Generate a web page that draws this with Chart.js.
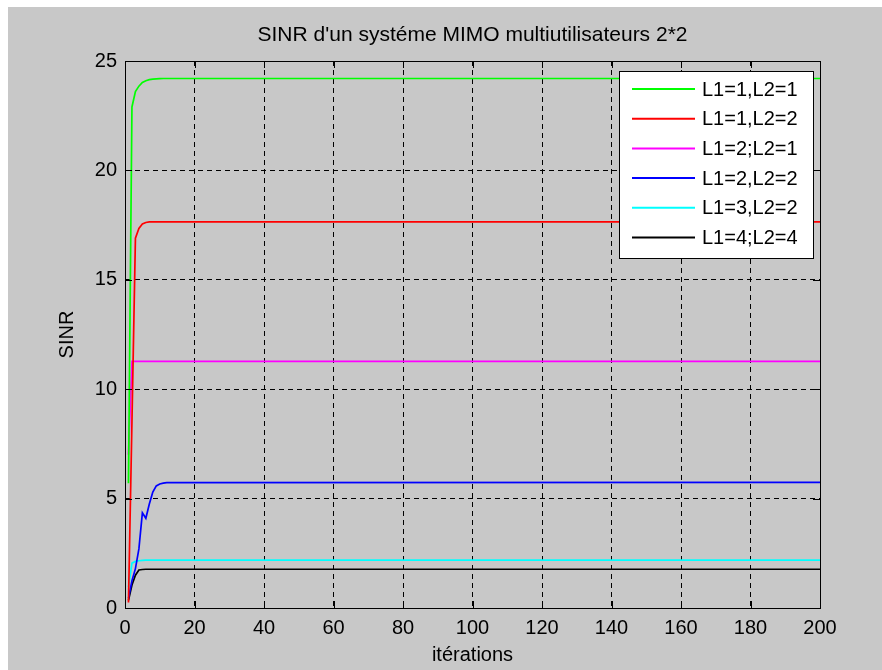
<!DOCTYPE html>
<html>
<head>
<meta charset="utf-8">
<script src="https://cdn.jsdelivr.net/npm/chart.js@4"></script>
<style>
  html, body { margin: 0; padding: 0; background: #fff; }
  #frame { position: absolute; left: 8px; top: 7px; width: 874px; height: 663px; background: #c8c8c8; }
</style>
</head>
<body>
<div id="frame"><canvas id="sinrCanvas" width="874" height="663"></canvas></div>
<script>
const sinrCanvas = document.getElementById("sinrCanvas");
const FONT = '"Liberation Sans", Arial, sans-serif';

// iteration numbers of the points (flat after ~12)
const iterations = [1, 2, 3, 4, 5, 6, 7, 8, 9, 10, 11, 12, 200];

const sinrL11L21 = [5.7, 22.9, 23.6, 23.85, 24.02, 24.1, 24.15, 24.17, 24.18, 24.19, 24.2, 24.2, 24.2];
const sinrL11L22 = [0.25, 8.5, 16.9, 17.35, 17.55, 17.62, 17.65, 17.65, 17.65, 17.65, 17.65, 17.65, 17.65];
const sinrL12L21 = [7.0, 11.27, 11.27, 11.27, 11.27, 11.27, 11.27, 11.27, 11.27, 11.27, 11.27, 11.27, 11.27];
const sinrL12L22 = [0.44, 1.25, 1.8, 2.7, 4.35, 4.1, 4.75, 5.3, 5.58, 5.67, 5.71, 5.73, 5.74];
const sinrL13L22 = [0.95, 2.05, 2.13, 2.16, 2.18, 2.19, 2.19, 2.19, 2.19, 2.19, 2.19, 2.19, 2.19];
const sinrL14L24 = [0.35, 1.05, 1.5, 1.74, 1.76, 1.77, 1.77, 1.77, 1.77, 1.77, 1.77, 1.77, 1.77];

const seriesLabels = ["L1=1,L2=1", "L1=1,L2=2", "L1=2;L2=1", "L1=2,L2=2", "L1=3,L2=2", "L1=4;L2=4"];
const seriesColors = ["#00ff00", "#ff0000", "#ff00ff", "#0000ff", "#00ffff", "#000000"];
const seriesValues = [sinrL11L21, sinrL11L22, sinrL12L21, sinrL12L22, sinrL13L22, sinrL14L24];

const xTicks = [0, 20, 40, 60, 80, 100, 120, 140, 160, 180, 200];
const yTicks = [0, 5, 10, 15, 20, 25];

const toPoints = values => values.map((v, i) => ({x: iterations[i], y: v}));

// box around the axes + small inner ticks like matlab
const axesFrame = {
    id: 'axesFrame',
    afterDatasetsDraw(chart) {
        const {ctx, chartArea: a, scales} = chart;
        ctx.save();
        ctx.strokeStyle = "#000";
        ctx.lineWidth = 1;
        ctx.setLineDash([]);
        ctx.strokeRect(Math.round(a.left) + 0.5, Math.round(a.top) + 0.5,
            Math.round(a.right - a.left), Math.round(a.bottom - a.top));
        ctx.beginPath();
        xTicks.forEach(v => {
            const px = Math.round(scales.x.getPixelForValue(v)) + 0.5;
            ctx.moveTo(px, a.bottom); ctx.lineTo(px, a.bottom - 7);
            ctx.moveTo(px, a.top); ctx.lineTo(px, a.top + 7);
        });
        yTicks.forEach(v => {
            const py = Math.round(scales.y.getPixelForValue(v)) + 0.5;
            ctx.moveTo(a.left, py); ctx.lineTo(a.left + 7, py);
            ctx.moveTo(a.right, py); ctx.lineTo(a.right - 7, py);
        });
        ctx.stroke();
        ctx.restore();
    }
};

// legend box inside the upper right corner
const legendBox = {
    id: 'legendBox',
    afterDatasetsDraw(chart) {
        const {ctx, chartArea: a} = chart;
        const w = 194, h = 187, rowH = 29.7;
        const x0 = Math.round(a.right - 7 - w), y0 = Math.round(a.top + 10);
        ctx.save();
        ctx.fillStyle = "#fff";
        ctx.fillRect(x0, y0, w, h);
        ctx.strokeStyle = "#000";
        ctx.lineWidth = 1;
        ctx.strokeRect(x0 + 0.5, y0 + 0.5, w, h);
        ctx.font = "20px " + FONT;
        ctx.textBaseline = "middle";
        ctx.textAlign = "left";
        chart.data.datasets.forEach((ds, i) => {
            const y = y0 + 18 + i * rowH;
            ctx.strokeStyle = ds.borderColor;
            ctx.lineWidth = 2;
            ctx.beginPath();
            ctx.moveTo(x0 + 13, y);
            ctx.lineTo(x0 + 76, y);
            ctx.stroke();
            ctx.fillStyle = "#000";
            ctx.fillText(ds.label, x0 + 83, y + 1);
        });
        ctx.restore();
    }
};

const sinrChart = new Chart(sinrCanvas, {
    type: "line",
    data: {
        datasets: seriesLabels.map((label, i) => ({
            label: label,
            data: toPoints(seriesValues[i]),
            borderColor: seriesColors[i],
            backgroundColor: seriesColors[i],
            borderWidth: 1.7,
            pointRadius: 0,
            tension: 0,
            fill: false
        }))
    },
    options: {
        responsive: false,
        animation: false,
        layout: {
            padding: {left: 0, right: 62, top: 0, bottom: 0}
        },
        scales: {
            x: {
                type: "linear",
                min: 0,
                max: 200,
                afterBuildTicks: s => { s.ticks = xTicks.map(v => ({value: v})); },
                afterFit: s => { s.height = 62; },
                ticks: {
                    color: "#000",
                    padding: 8,
                    maxRotation: 0,
                    font: {family: FONT, size: 20}
                },
                grid: {
                    color: "#000",
                    lineWidth: 1,
                    drawTicks: false
                },
                border: {
                    display: true,
                    color: "#000",
                    dash: [5, 4]
                },
                title: {
                    display: true,
                    text: "itérations",
                    color: "#000",
                    font: {family: FONT, size: 20},
                    padding: {top: 0, bottom: 3}
                }
            },
            y: {
                type: "linear",
                min: 0,
                max: 25,
                afterBuildTicks: s => { s.ticks = yTicks.map(v => ({value: v})); },
                afterFit: s => { s.width = 117; },
                ticks: {
                    color: "#000",
                    padding: 8,
                    font: {family: FONT, size: 20}
                },
                grid: {
                    color: "#000",
                    lineWidth: 1,
                    drawTicks: false
                },
                border: {
                    display: true,
                    color: "#000",
                    dash: [5, 4]
                },
                title: {
                    display: true,
                    text: "SINR",
                    color: "#000",
                    font: {family: FONT, size: 20},
                    padding: {top: 47, bottom: 0}
                }
            }
        },
        plugins: {
            legend: {display: false},
            tooltip: {enabled: false},
            title: {
                display: true,
                text: "SINR d'un systéme MIMO multiutilisateurs 2*2",
                color: "#000",
                fullSize: false,
                font: {family: FONT, size: 21, weight: "normal"},
                padding: {top: 16, bottom: 12.8}
            }
        }
    },
    plugins: [axesFrame, legendBox]
});
</script>
</body>
</html>
